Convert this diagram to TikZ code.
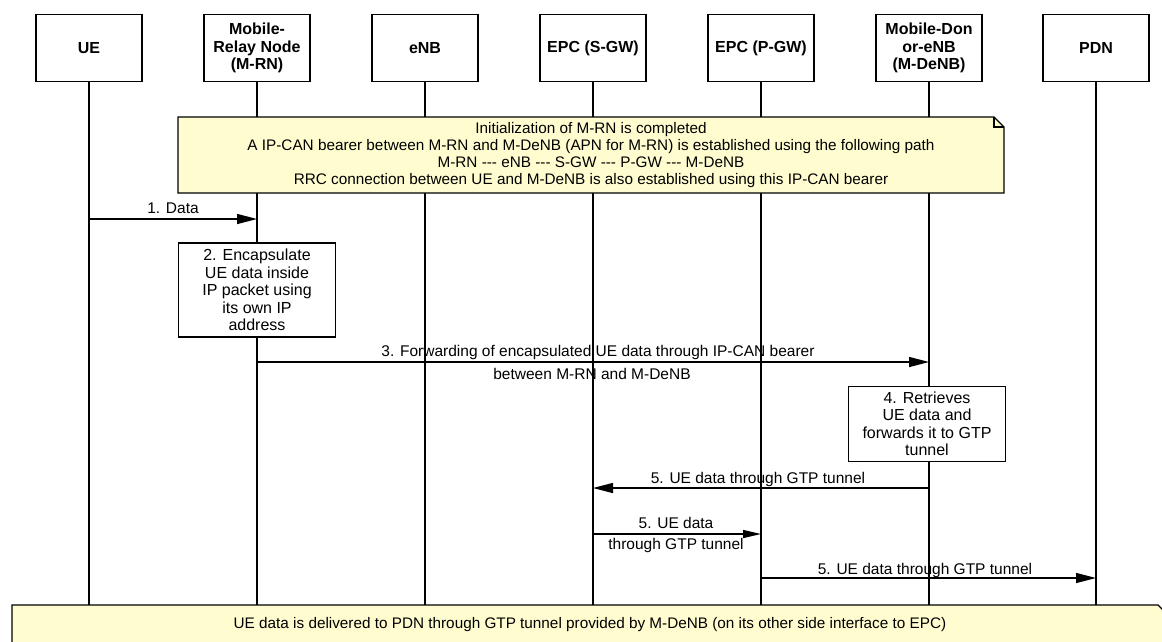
\documentclass[tikz,border=0pt]{standalone}
\usepackage{fontspec}
\setmainfont{Liberation Sans}
\usetikzlibrary{arrows.meta}
\definecolor{notefill}{HTML}{FFFDCF}
\tikzset{
  head/.style={draw, line width=1.6pt, minimum width=106pt, minimum height=67pt,
    align=center, font=\bfseries\fontsize{16}{17.5}\selectfont, inner sep=0pt},
  life/.style={line width=1.6pt},
  msg/.style={line width=1.4pt, -{Triangle[length=20pt,width=10pt]}},
  lbl/.style={font=\fontsize{15.5}{17}\selectfont, inner sep=0pt},
  actbox/.style={draw, fill=white, line width=1.6pt, align=center,
    font=\fontsize{16}{17.5}\selectfont, inner sep=0pt},
  notetext/.style={align=center, font=\fontsize{15.3}{17}\selectfont, inner sep=0pt},
  noteline/.style={draw, fill=notefill, line width=1.4pt}
}
\newcommand{\trihyph}{-{}-{}-}
\begin{document}
\begin{tikzpicture}[x=1pt,y=-1pt]
\useasboundingbox (0,0) rectangle (1162,641);

% participants
\node[head] (ue)   at (89,48)   {UE};
\node[head] (mrn)  at (257,48)  {Mobile-\\Relay Node\\(M-RN)};
\node[head] (enb)  at (425,48)  {eNB};
\node[head] (sgw)  at (593,48)  {EPC (S-GW)};
\node[head] (pgw)  at (761,48)  {EPC (P-GW)};
\node[head] (denb) at (929,48)  {Mobile-Don\\or-eNB\\(M-DeNB)};
\node[head] (pdn)  at (1096,48) {PDN};

% lifelines
\coordinate (bot) at (0,606);
\foreach \p in {ue,mrn,enb,sgw,pgw,denb,pdn}
  \draw[life] (\p.south) -- (\p |- bot);

% initialization note with folded corner
\draw[noteline] (178,117) -- (994,117) -- (1004,127) -- (1004,193) -- (178,193) -- cycle;
\draw[line width=1.2pt] (994,117) -- (994,127) -- (1004,127);
\node[notetext] (init) at (591,155) {Initialization of M-RN is completed\\
A IP-CAN bearer between M-RN and M-DeNB (APN for M-RN) is established using the following path\\
M-RN \trihyph{} eNB \trihyph{} S-GW \trihyph{} P-GW \trihyph{} M-DeNB\\
RRC connection between UE and M-DeNB is also established using this IP-CAN bearer};

% 1. data
\coordinate (y1) at (0,219);
\draw[msg] (ue |- y1) -- node[lbl, above=5pt] {1. Data} (mrn |- y1);

% 2. encapsulation
\node[actbox, minimum width=157pt, minimum height=94pt] (enc) at (257,290)
  {2. Encapsulate\\UE data inside\\IP packet using\\its own IP\\address};

% 3. forwarding
\coordinate (y3) at (0,362);
\draw[msg] (mrn |- y3) -- (denb |- y3);
\node[lbl] (l3a) at (598,352) {3. Forwarding of encapsulated UE data through IP-CAN bearer};
\node[lbl] (l3b) at (592,374) {between M-RN and M-DeNB};

% 4. retrieval
\node[actbox, minimum width=157pt, minimum height=75pt] (ret) at (927,424)
  {4. Retrieves\\UE data and\\forwards it to GTP\\tunnel};

% 5. GTP tunnel hops
\coordinate (y5a) at (0,488);
\draw[msg] (denb |- y5a) -- (sgw |- y5a);
\node[lbl] (l5a) at (758,479) {5. UE data through GTP tunnel};

\coordinate (y5b) at (0,534);
\draw[msg, -{Triangle[length=18pt,width=8pt]}] (sgw |- y5b) -- (pgw |- y5b);
\node[lbl] (l5b1) at (676,523) {5. UE data};
\node[lbl] (l5b2) at (676,545) {through GTP tunnel};

\coordinate (y5c) at (0,578);
\draw[msg] (pgw |- y5c) -- (pdn |- y5c);
\node[lbl] (l5c) at (925,570) {5. UE data through GTP tunnel};

% final note
\draw[noteline] (12,605) -- (1158,605) -- (1168,615) -- (1168,660) -- (12,660) -- cycle;
\node[notetext] (done) at (590,625) {UE data is delivered to PDN through GTP tunnel provided by M-DeNB (on its other side interface to EPC)};
\end{tikzpicture}
\end{document}
